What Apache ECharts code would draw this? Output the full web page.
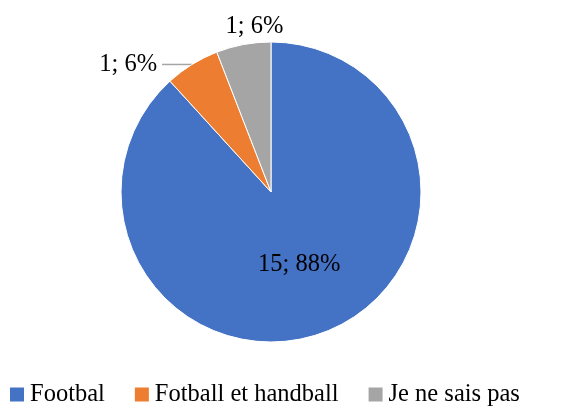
<!DOCTYPE html>
<html>
<head>
<meta charset="utf-8">
<script src="https://cdn.jsdelivr.net/npm/echarts@6/dist/echarts.min.js"></script>
<style>
  html, body { margin: 0; padding: 0; background: #fff; }
  #chart { width: 561px; height: 407px; }
</style>
</head>
<body>
<div id="chart"></div>
<script>
const categories = ["Footbal", "Fotball et handball", "Je ne sais pas"];
const counts = [15, 1, 1];
const percents = [88, 6, 6];
const colors = ["#4472C4", "#ED7D31", "#A5A5A5"];

const font = "'Liberation Serif', 'Times New Roman', serif";

const chart = echarts.init(document.getElementById("chart"));

const data = categories.map((name, i) => {
  const item = {
    name,
    value: counts[i],
    itemStyle: { color: colors[i] },
  };
  if (i === 0) {
    item.label = { position: "inside" };
  }
  if (i === 2) {
    item.labelLine = { show: false, length: 0, length2: 0 };
  }
  return item;
});

chart.setOption({
  animation: false,
  legend: {
    data: categories,
    top: 377,
    left: 3,
    icon: "rect",
    itemWidth: 16,
    itemHeight: 16,
    itemGap: 28,
    textStyle: { fontFamily: font, fontSize: 24.5, color: "#000" },
  },
  series: [
    {
      type: "pie",
      center: [271, 192],
      radius: 150,
      startAngle: 90,
      clockwise: true,
      avoidLabelOverlap: false,
      itemStyle: { borderColor: "#fff", borderWidth: 1 },
      label: {
        show: true,
        position: "outside",
        fontFamily: font,
        fontSize: 24.5,
        color: "#000",
        distanceToLabelLine: 5,
        formatter: (p) => counts[p.dataIndex] + "; " + percents[p.dataIndex] + "%",
      },
      labelLine: {
        show: true,
        length: 0,
        length2: 30,
        lineStyle: { color: "#A5A5A5", width: 1.5 },
      },
      labelLayout: (params) => {
        if (params.dataIndex === 2) {
          return { dx: 45, dy: -18 };
        }
      },
      data,
    },
  ],
});
</script>
</body>
</html>
